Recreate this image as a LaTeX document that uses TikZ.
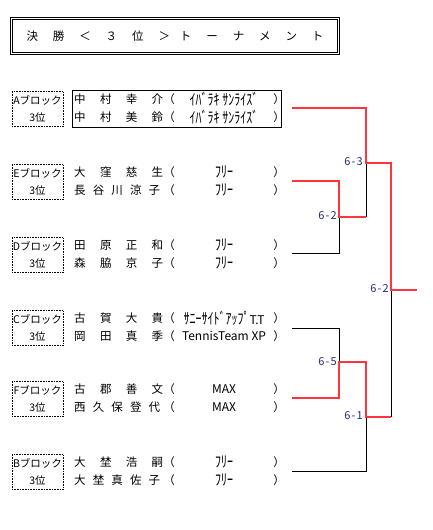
\documentclass[tikz,border=0pt]{standalone}
\usepackage{graphicx}
\usepackage{fontspec}
\newfontfamily\jp{Noto Sans CJK JP}
\definecolor{winred}{RGB}{255,52,60}
\definecolor{scorec}{RGB}{40,40,120}
\tikzset{
  every node/.style={font=\jp},
  lbl/.style={draw, dash pattern=on 0.7pt off 0.9pt, line width=0.7pt, minimum width=51pt, minimum height=35pt, inner sep=0pt, align=center, font=\jp\fontsize{10.5}{17}\selectfont},
  nm/.style={anchor=west, inner sep=0pt, font=\jp\fontsize{11.5}{12}\selectfont},
  paren/.style={inner sep=0pt, font=\jp\fontsize{11.5}{12}\selectfont},
  team/.style={inner sep=0pt, font=\jp\fontsize{12}{12}\selectfont},
  score/.style={anchor=east, inner sep=0pt, text=scorec, font=\jp\fontsize{11}{12}\selectfont},
  win/.style={draw=winred, line width=2.6pt},
  lose/.style={draw=black, line width=0.8pt},
}
\newcommand\hk[1]{\scalebox{1}[1.3]{#1}}
% #1 id, #2 y, #3 letter, #4 name1, #5 width1, #6 name2, #7 width2, #8 team1, #9 team2
\newcommand\teamblock[9]{%
  \node[lbl] (#1lab) at (37.5,#2+1) {#3ブロック\\3位};
  \node[nm] (#1n1) at (74,#2-9) {\makebox[#5][s]{#4}};
  \node[nm] (#1n2) at (74,#2+9) {\makebox[#7][s]{#6}};
  \node[paren] (#1o1) at (169,#2-9) {（};
  \node[paren] (#1o2) at (169,#2+9) {（};
  \node[paren] (#1c1) at (279,#2-9) {）};
  \node[paren] (#1c2) at (279,#2+9) {）};
  \node[team] (#1t1) at (224,#2-9) {#8};
  \node[team] (#1t2) at (224,#2+9) {#9};
}
\newcommand\matchscore[2]{#1\kern1.2pt-\kern1.2pt#2}
\begin{document}
\begin{tikzpicture}[x=1pt,y=-1pt]
\useasboundingbox (0,0) rectangle (432,530);
% title
\node[draw, line width=0.8pt, minimum width=329pt, minimum height=37pt, inner sep=0pt] (title) at (175,36)
  {\fontsize{11.5}{12}\selectfont\makebox[297pt][s]{決\hfill 勝\hfill ＜\hfill ３\hfill 位\hfill ＞\kern-5pt\hfill ト\hfill ー\hfill ナ\hfill メ\hfill ン\hfill ト}};
\draw[line width=0.8pt] ([shift={(2.5pt,-2.2pt)}]title.north west) rectangle ([shift={(-2.5pt,2.2pt)}]title.south east);
% blocks
\teamblock{a}{108}{A}{中\hfill 村\hfill 幸\hfill 介}{89pt}{中\hfill 村\hfill 美\hfill 鈴}{89pt}{\hk{ｲﾊﾞﾗｷ ｻﾝﾗｲｽﾞ}\hspace{8pt}}{\hk{ｲﾊﾞﾗｷ ｻﾝﾗｲｽﾞ}\hspace{8pt}}
\node[draw, line width=0.8pt, minimum width=209pt, minimum height=37pt, inner sep=0pt] (abox) at (176.5,108.5) {};
\teamblock{e}{181}{E}{大\hfill 窪\hfill 慈\hfill 生}{89pt}{長\hfill 谷\hfill 川\hfill 涼\hfill 子}{86pt}{\hk{ﾌﾘｰ}}{\hk{ﾌﾘｰ}}
\teamblock{d}{254}{D}{田\hfill 原\hfill 正\hfill 和}{89pt}{森\hfill 脇\hfill 京\hfill 子}{89pt}{\hk{ﾌﾘｰ}}{\hk{ﾌﾘｰ}}
\teamblock{c}{327}{C}{古\hfill 賀\hfill 大\hfill 貴}{89pt}{岡\hfill 田\hfill 真\hfill 季}{89pt}{\hk{ｻﾆｰｻｲﾄﾞｱｯﾌﾟ}T.T}{TennisTeam XP}
\teamblock{f}{398}{F}{古\hfill 郡\hfill 善\hfill 文}{89pt}{西\hfill 久\hfill 保\hfill 登\hfill 代}{86pt}{MAX}{MAX}
\teamblock{b}{471}{B}{大\hfill 埜\hfill 浩\hfill 嗣}{89pt}{大\hfill 埜\hfill 真\hfill 佐\hfill 子}{86pt}{\hk{ﾌﾘｰ}}{\hk{ﾌﾘｰ}}
% bracket coordinates
\coordinate (aL) at (292,108);
\coordinate (eL) at (292,181);
\coordinate (dL) at (292,253);
\coordinate (cL) at (292,328);
\coordinate (fL) at (292,398);
\coordinate (bL) at (292,471);
\coordinate (m1) at (339,217);
\coordinate (m2) at (366,163);
\coordinate (m3) at (339,362);
\coordinate (m4) at (366,417);
\coordinate (m5) at (391,290);
\coordinate (champ) at (417,290);
% losing paths
\draw[lose] (dL) -| (m1);
\draw[lose] (m1 -| m2) -- (m2);
\draw[lose] (cL) -| (m3);
\draw[lose] (bL) -| (m4);
\draw[lose] (m4 -| m5) -- (m5);
% winning paths
\draw[win] (aL) -| (m2) -- (m2 -| m5) -- (m5) -- (champ);
\draw[win] (eL) -| (m1) -- (m1 -| m2);
\draw[win] (fL) -| (m3) -- (m3 -| m4) |- (m4 -| m5);
% scores
\node[score] (s1) at (337,216) {\matchscore{6}{2}};
\node[score] (s2) at (363,162) {\matchscore{6}{3}};
\node[score] (s3) at (337,362) {\matchscore{6}{5}};
\node[score] (s4) at (363,416) {\matchscore{6}{1}};
\node[score] (s5) at (389,289) {\matchscore{6}{2}};
\end{tikzpicture}
\end{document}
